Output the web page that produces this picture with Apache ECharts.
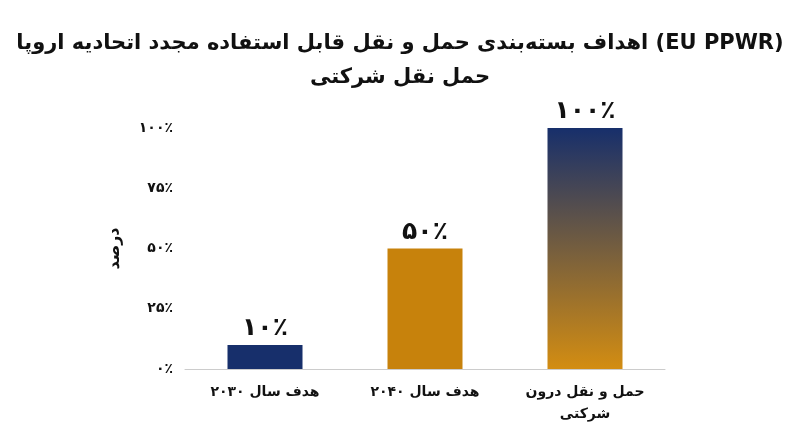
<!DOCTYPE html>
<html><head><meta charset="utf-8">
<script src="https://cdn.jsdelivr.net/npm/echarts@6/dist/echarts.min.js"></script>
<style>html,body{margin:0;background:#fff}#c{width:800px;height:447px}</style></head>
<body><div id="c"></div>
<script>
const categories = ['هدف سال ۲۰۳۰', 'هدف سال ۲۰۴۰', 'حمل و نقل درون\nشرکتی'];
const values = [10, 50, 100];
const yTicks = [0, 25, 50, 75, 100];
const fa = n => String(n).replace(/\d/g, d => '۰۱۲۳۴۵۶۷۸۹'[d]) + '٪';
const F = 'DejaVu Sans';
const styles = [
  {color: '#172f6b'},
  {color: '#c7820c'},
  {color: {type: 'linear', x: 0, y: 0, x2: 0, y2: 1, colorStops: [{offset: 0, color: '#172f6b'}, {offset: 1, color: '#d38d12'}]}}
];
const chart = echarts.init(document.getElementById('c'));
chart.setOption({
  title: {text: 'اهداف بسته‌بندی حمل و نقل قابل استفاده مجدد اتحادیه اروپا (EU PPWR)\nحمل نقل شرکتی', left: 'center', top: 22,
    textStyle: {fontFamily: F, fontSize: 21, fontWeight: 'bold', color: '#111', lineHeight: 34}},
  grid: {left: 185, right: 135, top: 128, bottom: 78},
  xAxis: {type: 'category', data: categories, axisTick: {show: false},
    axisLine: {lineStyle: {color: '#ccc'}},
    axisLabel: {fontFamily: F, fontSize: 14, fontWeight: 'bold', color: '#111', margin: 12, lineHeight: 22}},
  yAxis: {type: 'value', min: 0, max: 100, interval: 25, splitLine: {show: false},
    axisLabel: {fontFamily: F, fontSize: 14, fontWeight: 'bold', color: '#111', formatter: v => yTicks.includes(v) ? fa(v) : '', margin: 12},
    name: 'درصد', nameLocation: 'middle', nameGap: 62, nameRotate: 90,
    nameTextStyle: {fontFamily: F, fontSize: 16, fontWeight: 'bold', color: '#111'}},
  series: [{type: 'bar', barWidth: 75,
    data: values.map((v, i) => ({value: v, itemStyle: styles[i]})),
    label: {show: true, position: 'top', formatter: p => fa(p.value), fontFamily: F, fontSize: 25, fontWeight: 'bold', color: '#111', distance: 4}}]
});
</script></body></html>
